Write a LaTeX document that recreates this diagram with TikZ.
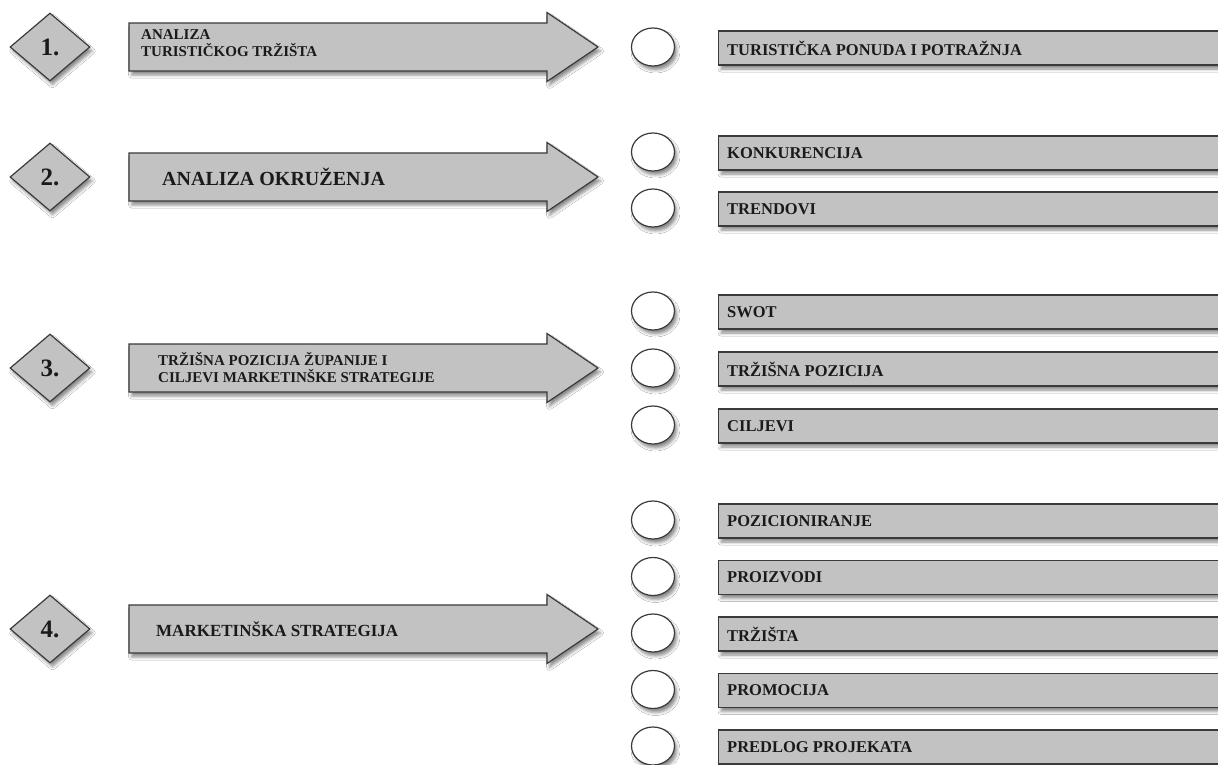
\documentclass[tikz,border=0pt]{standalone}
\usepackage{fontspec}
\setmainfont{Liberation Serif}
\usetikzlibrary{shapes.geometric,shadows.blur}
\definecolor{panelgray}{HTML}{C2C2C2}
\definecolor{edge}{HTML}{3A3A3A}
\definecolor{ink}{HTML}{1A1A1A}

\begin{document}
\begin{tikzpicture}[x=1pt,y=-1pt,
  shade/.style={blur shadow={shadow xshift=2.5pt,shadow yshift=-4pt,shadow blur radius=3pt,shadow opacity=45}},
  panel/.style={draw=edge,line width=1.2pt,fill=panelgray},
  stepmark/.style={panel,shade,diamond,minimum width=80pt,minimum height=68pt,inner sep=0pt,
    text=ink,font=\bfseries\fontsize{25}{25}\selectfont},
  bigarrow/.style={panel,shade,line join=miter},
  bullet/.style={draw=edge,line width=1.2pt,fill=white,shade,ellipse,minimum width=43pt,minimum height=38pt,inner sep=0pt},
  itembox/.style={panel,shade,minimum height=34pt,minimum width=520pt,anchor=west,inner sep=0pt},
  itemtext/.style={anchor=west,text=ink,font=\bfseries\fontsize{16.5}{16.5}\selectfont,inner sep=0pt},
  arrowtext/.style={anchor=west,align=left,text=ink,inner sep=0pt},
  twoline/.style={arrowtext,font=\bfseries\fontsize{15}{17}\selectfont},
  oneline/.style={arrowtext,font=\bfseries\fontsize{#1}{#1}\selectfont}
]
% page
\fill[white] (0,0) rectangle (1218,764);
\useasboundingbox (0,0) rectangle (1218,764);

% big arrows, one per step
\foreach \c in {47,177,368,629}{
  \path[bigarrow] (129,\c-24) -- (547,\c-24) -- (547,\c-34.5) -- (598,\c)
    -- (547,\c+34.5) -- (547,\c+24) -- (129,\c+24) -- cycle;
}

% step markers
\node[stepmark] (s1) at (50,47)  {1.};
\node[stepmark] (s2) at (50,177) {2.};
\node[stepmark] (s3) at (50,368) {3.};
\node[stepmark] (s4) at (50,629) {4.};

% arrow captions
\node[twoline] (a1) at (141,43)  {ANALIZA\\TURISTIČKOG TRŽIŠTA};
\node[oneline=20] (a2) at (162,177) {ANALIZA OKRUŽENJA};
\node[twoline] (a3) at (158,368) {TRŽIŠNA POZICIJA ŽUPANIJE I\\CILJEVI MARKETINŠKE STRATEGIJE};
\node[oneline=17] (a4) at (156,629) {MARKETINŠKA STRATEGIJA};

% bullets and item bars
\foreach \n/\y in {c1/47, c2/152, c3/208, c4/311, c5/368, c6/425,
                   c7/520, c8/576.5, c9/633, c10/689.5, c11/746}{
  \node[bullet] (\n) at (653,\y) {};
  \node[itembox] (\n bar) at (718,\y+1) {};
}

\node[itemtext] (t1)  at ([xshift=9pt]c1bar.west)  {TURISTIČKA PONUDA I POTRAŽNJA};
\node[itemtext] (t2)  at ([xshift=9pt]c2bar.west)  {KONKURENCIJA};
\node[itemtext] (t3)  at ([xshift=9pt]c3bar.west)  {TRENDOVI};
\node[itemtext] (t4)  at ([xshift=9pt]c4bar.west)  {SWOT};
\node[itemtext] (t5)  at ([xshift=9pt]c5bar.west)  {TRŽIŠNA POZICIJA};
\node[itemtext] (t6)  at ([xshift=9pt]c6bar.west)  {CILJEVI};
\node[itemtext] (t7)  at ([xshift=9pt]c7bar.west)  {POZICIONIRANJE};
\node[itemtext] (t8)  at ([xshift=9pt]c8bar.west)  {PROIZVODI};
\node[itemtext] (t9)  at ([xshift=9pt]c9bar.west)  {TRŽIŠTA};
\node[itemtext] (t10) at ([xshift=9pt]c10bar.west) {PROMOCIJA};
\node[itemtext] (t11) at ([xshift=9pt]c11bar.west) {PREDLOG PROJEKATA};
\end{tikzpicture}
\end{document}
